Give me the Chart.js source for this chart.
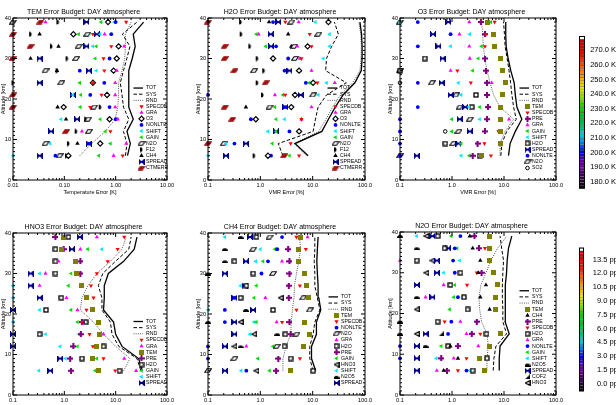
<!DOCTYPE html>
<html>
<head>
<meta charset="utf-8">
<script src="https://cdn.jsdelivr.net/npm/chart.js@4.4.1/dist/chart.umd.min.js"></script>
<style>
  body { margin: 0; background: #fff; }
  #fig { position: relative; width: 616px; height: 405px; overflow: hidden; background: #fff; }
  #fig canvas { position: absolute; }
</style>
</head>
<body>
<div id="fig"></div>
<script>
// altitude levels (km) shared by every panel
const altitudes = [6, 9, 12, 15, 18, 21, 24, 27, 30, 33, 36, 39];

// TEM panel (temperature error, K)
const temTOT    = [1.7, 1.93, 1.66, 2.2, 1.8, 1.8, 1.8, 1.8, 2.1, 2.4, 2.2, 3.5];
const temSYS    = [1.55, 1.66, 1.42, 1.8, 1.42, 1.33, 1.23, 1.42, 1.65, 1.9, 1.35, 2.6];
const temRND    = [0.2, 0.34, 0.63, 0.98, 1.1, 1.14, 1.14, 1.33, 1.5, 1.55, 1.55, 2.0];
const temSPECDB = [1.37, null, 0.79, null, 0.32, 0.53, 0.36, 0.6, 0.58, 0.82, 0.36, 1.6];
const temGRA    = [0.91, 1.6, 0.22, 1.1, 0.98, 0.98, 0.98, 1.05, null, 1.46, 0.61, 0.043];
const temO3     = [0.12, 0.5, null, 0.76, 0.097, 0.68, 0.36, 0.91, 1.05, 1.14, 0.15, 0.71];
const temNONLTE = [0.067, 0.3, null, 1.0, 0.76, 0.32, 0.6, 0.2, 0.76, null, 0.82, 1.0];
const temSHIFT  = [0.01, 0.053, null, 0.086, null, 0.147, null, 0.42, null, 0.36, 0.5, 0.94];
const temGAIN   = [0.47, 0.79, 0.63, 0.5, 0.205, 0.21, 0.2, null, 0.4, 0.42, 0.19, 0.52];
const temN2O    = [0.081, 0.043, 0.3, 0.29, 0.38, null, 0.087, 0.043, 0.17, 0.19, 0.28, 0.01];
const temF12    = [0.11, 0.12, 0.17, 0.26, 0.5, null, 0.01, 0.072, 0.113, 0.056, 0.022, 0.075];
const temCH4    = [null, 0.18, null, 0.108, 0.074, null, null, 0.072, 0.022, 0.077, 0.033, null];
const temSPREAD = [0.033, 0.3, 0.055, 0.177, null, 0.147, 0.033, 0.3, 0.033, 0.27, 0.43, 0.27];
const temCTMERR = [null, null, 0.108, null, 0.01, 0.01, null, null, 0.01, 0.022, 0.01, 0.034];

// H2O panel (VMR error, %)
const h2oTOT    = [8.2, 4.6, 15, 20, 27, 38, 64, 85, 88, 88, 86, 80];
const h2oSYS    = [2.7, 2.2, 10.2, 11.3, 12.7, 18.4, 44, 17.7, 18.4, 23, 31, 26];
const h2oRND    = [7.6, 4.4, 13, 18, 24, 34, 58, 80, 84, 85, 83, 76];
const h2oSPECDB = [5.5, 3.8, null, 6.1, null, 3.0, 12.3, null, 6.1, 9.5, 8.8, 3.0];
const h2oGRA    = [null, null, null, 6.1, 9.5, 1.9, 26.5, 9.5, 5.7, 5.1, 0.93, 5.4];
const h2oO3     = [1.4, null, 5.5, 0.82, 3.9, 4.6, 10.2, 5.5, 1.75, 8.0, null, 20];
const h2oNONLTE = [1.6, 0.32, 3.6, 0.66, 3.0, 0.1, 7.4, 2.9, 3.4, 2.0, null, 1.75];
const h2oSHIFT  = [0.1, 0.22, 1.4, 2.9, null, 12.8, 18.4, null, 16, 21, 21, 11.3];
const h2oGAIN   = [3.6, 1.7, 2.0, 2.0, 1.9, 2.7, 8.6, null, 1.75, 1.27, 0.84, null];
const h2oN2O    = [null, 0.2, null, null, 1.5, 10.2, null, 0.76, 4.6, 4.4, 12.8, 3.9];
const h2oF12    = [0.76, null, null, null, null, 1.1, 0.87, 1.16, 0.87, 0.63, 0.43, 0.42];
const h2oCH4    = [null, null, null, null, 0.53, null, null, null, null, 3.9, 3.4, 1.47];
const h2oSPREAD = [0.22, 0.53, 2.0, null, 3.0, 5.9, null, 3.6, null, 1.6, 1.58, 2.2];
const h2oCTMERR = [2.85, 0.1, null, 0.29, 0.21, null, 1.27, 0.32, 0.21, 0.21, null, 0.1];

// O3 panel
const o3TOT    = [12.2, 13.1, 16.5, 22, 17.7, 16.5, 15.7, 13.5, 12.0, 11, 10.8, 10.8];
const o3SYS    = [8.7, 9.1, 11.3, 17.2, 15.3, 14.2, 13.4, 12.5, 11.5, 10.5, 10.2, 9.8];
const o3RND    = [8.4, 8.4, 10.5, 15.3, 8.4, 6.3, 5.4, 4.7, 4.3, 4.0, 3.9, 3.7];
const o3TEM    = [3.7, 8.4, 8.4, 8.4, 8.4, 9.4, 10.6, 9.4, 8.4, 6.6, 6.3, 4.8];
const o3SPECDB = [5.6, 4.2, 7.8, null, null, null, 2.3, 1.27, null, 4.3, 4.5, 6.6];
const o3PRE    = [2.5, 3.1, 4.3, 4.7, 4.9, 4.7, 4.7, 4.5, 4.3, null, 4.3, 3.6];
const o3GRA    = [null, null, null, 12.5, null, null, 5.8, 0.94, 2.2, 2.15, 1.39, 2.15];
const o3GAIN   = [2.15, 1.5, 0.99, 0.99, 3.4, null, null, 2.5, 3.2, 3.7, null, 5.6];
const o3SHIFT  = [1.5, null, null, 3.4, 2.1, 1.5, 1.33, null, null, 0.94, 2.2, 0.1];
const o3H2O    = [3.4, 0.74, null, null, 2.4, 2.9, null, 0.1, 0.3, null, null, null];
const o3SPREAD = [0.21, 1.33, 2.2, 1.4, 1.8, 0.94, 0.63, null, 0.66, 0.55, 0.43, 0.85];
const o3NONLTE = [0.1, 0.1, 0.1, 0.1, 0.22, null, 0.22, null, null, 0.22, 0.94, 0.22];
const o3N2O    = [0.1, 1.06, 1.33, 2.2, 1.4, 1.2, 0.41, 0.1, null, null, null, 0.1];
const o3SO2    = [null, null, 0.74, null, null, null, 0.1, null, null, null, null, null];

// HNO3 panel
const hno3TOT    = [33, 28, 13.3, 10, 9.1, 5.8, 6.0, 6.0, 7.2, 14.3, 23, 26];
const hno3SYS    = [31, 26, 11.5, 8.5, 7.9, 5.4, 5.4, 4.6, 5.6, 9.9, 18, 20];
const hno3RND    = [14.3, 19, 10, 5.8, 3.7, 2.05, 2.2, 2.9, 4.3, 7.9, 13.3, 16];
const hno3SPECDB = [9.8, 5.8, 3.6, 3.1, 2.2, 2.7, 3.7, 3.3, 4.3, 7.0, 10.9, 14.7];
const hno3GRA    = [25, 14.7, null, 5.8, null, 1.8, 1.1, 0.33, 0.43, 0.77, 2.05, 4.3];
const hno3TEM    = [4.65, 3.6, 4.3, 4.9, 4.65, 3.5, 2.7, 2.2, 1.76, 1.64, 0.9, 0.97];
const hno3PRE    = [1.35, 1.3, 1.5, 2.1, 2.2, null, null, null, 2.05, 2.05, 0.97, 0.67];
const hno3H2O    = [11.9, 2.2, 5.8, 0.33, 2.6, 0.44, 0.87, null, 0.67, 0.67, 0.67, 1.2];
const hno3GAIN   = [4.0, 4.3, 1.8, 1.95, 1.8, 1.35, null, 1.2, 1.35, null, 2.85, null];
const hno3SHIFT  = [0.32, 1.05, 0.83, 0.43, 0.1, 0.33, 0.1, 0.1, 0.33, null, 5.4, null];
const hno3SPREAD = [0.53, 0.83, 0.1, 0.1, null, 0.1, 0.33, 0.22, 0.22, null, 1.4, 2.0];

// CH4 panel
const ch4TOT    = [11.4, 9.5, 9.5, 11.8, 11.8, 14.3, 13.1, 12.7, 12.3, 12.0, 12.3, 12.7];
const ch4SYS    = [10.2, 8.8, 8.8, 10.2, 11.0, 13.7, 12.3, 11.0, 11.0, 10.7, 11.0, 11.0];
const ch4RND    = [2.7, 2.7, 3.1, 3.8, 3.9, 4.1, 4.4, 4.5, 4.9, 5.4, 5.9, 5.6];
const ch4TEM    = [3.7, null, 6.6, 8.8, 7.0, null, 8.2, 7.7, 6.9, 5.4, 5.4, 5.9];
const ch4SPECDB = [null, 5.7, null, null, 2.6, 4.9, null, 5.7, null, null, 7.4, 4.9];
const ch4NONLTE = [0.54, 0.1, 0.1, null, 0.21, 0.21, 0.32, null, 1.05, 1.4, 2.1, 2.6];
const ch4N2O    = [0.1, 0.32, 2.05, 4.9, null, 8.8, 6.6, null, 1.75, null, 0.73, 1.5];
const ch4GRA    = [null, null, 0.54, null, 2.05, null, 1.25, null, null, 2.6, null, 8.0];
const ch4H2O    = [10.2, 3.8, 2.9, 3.0, null, 1.75, 0.42, 0.54, 0.73, 0.32, null, 0.84];
const ch4PRE    = [2.0, 2.2, null, 3.8, 3.6, null, 3.5, 3.5, 3.6, 3.6, 3.4, null];
const ch4GAIN   = [1.5, 0.9, 1.75, null, 0.84, null, 0.76, 0.84, null, 1.13, 1.9, null];
const ch4HNO3   = [0.84, null, 0.32, 0.76, 0.42, null, 2.45, null, null, null, null, null];
const ch4SHIFT  = [0.43, null, null, 0.63, 0.76, 0.1, null, 0.42, null, 0.82, 1.0, 0.21];
const ch4N2O5   = [null, null, 0.42, 2.1, 0.1, 0.53, null, null, 0.1, 0.21, 0.21, 0.42];
const ch4SPREAD = [0.21, null, 0.21, 0.32, 0.32, 0.73, 0.32, 0.5, 0.21, 0.53, null, 0.63];

// N2O panel
const n2oTOT    = [8.1, 8.1, 8.4, 12.6, 10.5, 10.5, 10.5, 10.8, 11.2, 11.5, 12.2, 14.1];
const n2oSYS    = [6.2, 6.4, 7.0, 11.2, 9.5, 9.5, 9.3, 9.3, 9.5, 9.8, 9.0, 8.4];
const n2oRND    = [4.7, 4.7, 5.0, 4.7, 3.7, 3.4, 3.3, 3.6, 4.5, 5.6, 7.5, 11.3];
const n2oTEM    = [4.15, 3.4, 5.2, 8.7, null, 7.0, 7.0, 7.4, 6.2, 5.2, 5.2, 5.2];
const n2oCH4    = [0.69, 1.3, 0.93, null, null, 5.3, 3.5, 4.5, 3.2, 3.5, 2.5, 2.2];
const n2oPRE    = [0.8, 0.62, 1.3, 2.4, 3.0, null, null, null, 3.7, null, 3.3, 2.7];
const n2oSPECDB = [1.3, 1.9, null, 3.5, 0.72, null, null, 1.95, 3.0, null, 4.3, null];
const n2oH2O    = [2.5, 4.7, 0.84, 4.6, 0.53, 2.0, 1.7, 0.93, 1.45, 0.21, 0.72, 0.53];
const n2oGRA    = [0.51, 1.08, 3.2, 1.9, 1.45, null, 0.31, 0.69, null, 0.1, null, null];
const n2oNONLTE = [1.9, 0.1, 0.1, 0.84, 0.97, null, 1.3, null, 1.13, 1.05, 1.13, 1.45];
const n2oGAIN   = [null, null, 0.62, null, null, 0.9, 1.08, 1.13, null, null, 1.25, 0.97];
const n2oSHIFT  = [2.2, 0.5, null, null, null, null, null, null, 0.69, 1.4, null, 0.21];
const n2oN2O5   = [null, null, 0.31, 0.1, 0.1, null, 0.21, null, null, null, 0.21, 0.1];
const n2oSPREAD = [0.21, 0.21, 0.21, 0.31, null, null, 0.42, 0.21, 0.51, 0.51, 0.84, 0.42];
const n2oCOF2   = [null, null, null, 0.62, null, null, null, null, null, null, null, null];
const n2oHNO3   = [null, null, null, 0.21, null, 0.21, null, null, 0.32, 0.42, null, 0.32];

// axis ticks and labels
const yTicks = [0, 10, 20, 30, 40];
const yTickLabels = ['0', '10', '20', '30', '40'];
const temXTicks = [0.01, 0.1, 1, 10];
const temXLabels = ['0.01', '0.10', '1.00', '10.00'];
const vmrXTicks = [0.1, 1, 10, 100];
const vmrXLabels = ['0.1', '1.0', '10.0', '100.0'];

// colour bars
const cb1Range = [175.5, 279.5];
const cb1Ticks = [180, 190, 200, 210, 220, 230, 240, 250, 260, 270];
const cb1Labels = ['180.0 K', '190.0 K', '200.0 K', '210.0 K', '220.0 K', '230.0 K', '240.0 K', '250.0 K', '260.0 K', '270.0 K'];
const cb2Range = [-0.8, 14.75];
const cb2Ticks = [0, 1.5, 3, 4.5, 6, 7.5, 9, 10.5, 12, 13.5];
const cb2Labels = ['0.0 ppm', '1.5 ppm', '3.0 ppm', '4.5 ppm', '6.0 ppm', '7.5 ppm', '9.0 ppm', '10.5 ppm', '12.0 ppm', '13.5 ppm'];

const FONT = "'Liberation Sans', Arial, Helvetica, sans-serif";
Chart.defaults.font.family = FONT;
Chart.defaults.color = '#000';

// small custom marker glyphs
function glyph(w, h, draw) {
  const c = document.createElement('canvas');
  c.width = w; c.height = h;
  draw(c.getContext('2d'));
  return c;
}
function para(fill, stroke) {
  return glyph(8, 5, g => {
    g.beginPath();
    g.moveTo(3, 0.7); g.lineTo(7.4, 0.7); g.lineTo(5, 4.3); g.lineTo(0.6, 4.3);
    g.closePath();
    g.fillStyle = fill; g.fill();
    g.lineWidth = 1.1; g.strokeStyle = stroke; g.stroke();
  });
}
const gN2O = para('#fff', '#000');
const gCTMERR = para('#a01010', '#a01010');
const gF12 = glyph(5, 6, g => {
  g.beginPath(); g.moveTo(1, 0.5); g.arc(1, 3, 2.5, -Math.PI / 2, Math.PI / 2); g.closePath();
  g.fillStyle = '#000'; g.fill();
});
const gSPREAD = glyph(6, 6, g => {
  g.fillStyle = '#00008c'; g.strokeStyle = '#00008c'; g.lineWidth = 1;
  g.beginPath(); g.moveTo(0, 0); g.lineTo(3, 3); g.lineTo(0, 6); g.fill();
  g.beginPath(); g.moveTo(6, 0); g.lineTo(3, 3); g.lineTo(6, 6); g.fill();
  g.beginPath(); g.moveTo(0, 0); g.lineTo(6, 6); g.moveTo(6, 0); g.lineTo(0, 6); g.stroke();
});
const gH2O = glyph(6, 6, g => {
  g.fillStyle = '#fff'; g.fillRect(1, 1, 4, 4);
  g.strokeStyle = '#000'; g.lineWidth = 1.3; g.strokeRect(1, 1, 4, 4);
});
const gTEM = glyph(5, 5, g => { g.fillStyle = '#808000'; g.fillRect(0, 0, 5, 5); });
const gPRE = glyph(6, 6, g => {
  g.fillStyle = '#800080'; g.fillRect(2, 0, 2, 6); g.fillRect(0, 2, 6, 2);
  g.beginPath(); g.moveTo(3, 0.5); g.lineTo(5.5, 3); g.lineTo(3, 5.5); g.lineTo(0.5, 3); g.fill();
});
const gN2O5 = glyph(6, 4, g => {
  g.beginPath(); g.arc(3, 4, 3, Math.PI, 0); g.closePath(); g.fillStyle = '#000'; g.fill();
});
const gCOF2 = glyph(5, 5, g => {
  g.beginPath(); g.moveTo(5, 0); g.lineTo(5, 5); g.lineTo(0, 5); g.closePath(); g.fillStyle = '#000'; g.fill();
});
const gHNO3 = glyph(6, 6, g => {
  g.beginPath(); g.moveTo(0.7, 3); g.lineTo(5.3, 0.7); g.lineTo(5.3, 5.3); g.closePath();
  g.fillStyle = '#fff'; g.fill(); g.lineWidth = 1.2; g.strokeStyle = '#000'; g.stroke();
});

const markerStyle = {
  SPECDB: { style: 'triangle', rot: 180, fill: '#ff0000', r: 2.4 },
  GRA:    { style: 'triangle', fill: '#ff00ff', r: 2.4 },
  O3:     { style: 'rectRot', fill: '#fff', stroke: '#000', bw: 1.2, r: 2.6 },
  NONLTE: { style: 'circle', fill: '#0000ff', r: 1.9 },
  SHIFT:  { style: 'triangle', rot: 270, fill: '#00e8ff', r: 2.4 },
  GAIN:   { style: 'triangle', rot: 270, fill: '#00dd00', r: 2.4 },
  N2O:    { style: gN2O },
  F12:    { style: gF12 },
  CH4:    { style: 'triangle', fill: '#000', r: 2.6 },
  SPREAD: { style: gSPREAD },
  CTMERR: { style: gCTMERR },
  TEM:    { style: gTEM },
  PRE:    { style: gPRE },
  H2O:    { style: gH2O },
  SO2:    { style: 'circle', fill: '#fff', stroke: '#000', bw: 1, r: 1.8 },
  N2O5:   { style: gN2O5 },
  COF2:   { style: gCOF2 },
  HNO3:   { style: gHNO3 }
};
const lineStyle = {
  TOT: { color: '#000', width: 1.3, dash: [] },
  SYS: { color: '#000', width: 1, dash: [3.5, 2] },
  RND: { color: '#555', width: 1, dash: [1, 1.2] }
};

const points = vals => altitudes.map((a, i) => ({ x: vals[i], y: a })).filter(p => p.x != null);

// box frame with inward ticks, like the original plots
function framePlugin(xTicks) {
  return {
    id: 'frame',
    afterDatasetsDraw(chart) {
      const { ctx, chartArea: a, scales: { x, y } } = chart;
      ctx.save();
      ctx.strokeStyle = '#000';
      ctx.lineWidth = 1;
      ctx.strokeRect(a.left, a.top, a.right - a.left, a.bottom - a.top);
      ctx.beginPath();
      for (let v = 0; v <= 40; v++) {
        const py = y.getPixelForValue(v);
        const len = v % 10 === 0 ? 4 : 2;
        ctx.moveTo(a.left, py); ctx.lineTo(a.left + len, py);
        ctx.moveTo(a.right, py); ctx.lineTo(a.right - len, py);
      }
      const lo = xTicks[0], hi = xTicks[xTicks.length - 1];
      for (let d = lo; d < hi * 1.0001; d *= 10) {
        for (let k = 1; k <= 9; k++) {
          const v = d * k;
          if (v > hi * 1.0001) break;
          const px = x.getPixelForValue(v);
          const len = k === 1 ? 4 : 2;
          ctx.moveTo(px, a.bottom); ctx.lineTo(px, a.bottom - len);
          ctx.moveTo(px, a.top); ctx.lineTo(px, a.top + len);
        }
      }
      ctx.stroke();
      ctx.restore();
    }
  };
}

// in-plot legend, anchored to the lower right of the plot box
function legendPlugin(names, seriesNames, dx) {
  return {
    id: 'errLegend',
    afterDraw(chart) {
      const { ctx, chartArea: a } = chart;
      const entries = names.concat(seriesNames);
      const tx = a.right + dx;
      ctx.save();
      ctx.font = '5.2px ' + FONT;
      ctx.textBaseline = 'middle';
      entries.forEach((name, i) => {
        const y = a.bottom - 12 - (entries.length - 1 - i) * 6.15;
        if (lineStyle[name]) {
          const s = lineStyle[name];
          ctx.strokeStyle = s.color; ctx.lineWidth = s.width; ctx.setLineDash(s.dash);
          ctx.beginPath(); ctx.moveTo(tx - 12.5, y); ctx.lineTo(tx - 3, y); ctx.stroke();
          ctx.setLineDash([]);
        } else {
          const s = markerStyle[name];
          ctx.fillStyle = s.fill || '#000';
          ctx.strokeStyle = s.stroke || s.fill || '#000';
          ctx.lineWidth = s.bw || 0;
          Chart.helpers.drawPoint(ctx, { pointStyle: s.style, rotation: s.rot || 0, radius: s.r || 2.5, borderWidth: s.bw || 0 }, tx - 4.5, y);
        }
        ctx.fillStyle = '#000';
        ctx.fillText(name, tx, y);
      });
      ctx.restore();
    }
  };
}

function makePanel(p) {
  const [L, T, R, B] = p.area;
  const canvas = document.createElement('canvas');
  canvas.width = R - L + 26;
  canvas.height = B - T + 34;
  canvas.style.left = (L - 13) + 'px';
  canvas.style.top = (T - 18) + 'px';
  document.getElementById('fig').appendChild(canvas);

  const datasets = [];
  p.series.forEach(([name, vals]) => {
    const s = markerStyle[name];
    datasets.push({
      label: name,
      data: points(vals),
      showLine: false,
      clip: false,
      pointStyle: s.style,
      pointRotation: s.rot || 0,
      pointRadius: s.r || 2.5,
      pointBackgroundColor: s.fill || '#000',
      pointBorderColor: s.stroke || s.fill || '#000',
      pointBorderWidth: s.bw || 0
    });
  });
  p.lines.forEach(([name, vals]) => {
    const s = lineStyle[name];
    datasets.push({
      label: name,
      data: points(vals),
      showLine: true,
      clip: false,
      borderColor: s.color,
      borderWidth: s.width,
      borderDash: s.dash,
      pointRadius: 0,
      tension: 0
    });
  });

  new Chart(canvas, {
    type: 'scatter',
    data: { datasets },
    options: {
      responsive: false,
      animation: false,
      events: [],
      layout: { padding: { left: 0, right: 13, top: 0, bottom: 0 } },
      plugins: {
        legend: { display: false },
        tooltip: { enabled: false },
        title: { display: true, text: p.title, color: '#000', font: { size: 7, weight: 'normal' }, padding: { top: 7.8, bottom: 1.8 } }
      },
      scales: {
        x: {
          type: 'logarithmic',
          min: p.xTicks[0],
          max: p.xTicks[p.xTicks.length - 1],
          grid: { display: false, drawTicks: false },
          border: { display: false },
          afterBuildTicks: s => { s.ticks = p.xTicks.map(v => ({ value: v })); },
          ticks: { font: { size: 5.6 }, padding: 2, autoSkip: false, maxRotation: 0, callback: (v, i) => p.xLabels[i] },
          title: { display: true, text: p.xTitle, font: { size: 5.5 }, padding: 0 },
          afterFit: s => { s.height = 16; }
        },
        y: {
          min: 0,
          max: 40,
          grid: { display: false, drawTicks: false },
          border: { display: false },
          afterBuildTicks: s => { s.ticks = yTicks.map(v => ({ value: v })); },
          ticks: { font: { size: 5.6 }, padding: 2, callback: (v, i) => yTickLabels[i] },
          title: { display: true, text: 'Altitude [km]', font: { size: 5.5 }, padding: 0 },
          afterFit: s => { s.width = 13; }
        }
      }
    },
    plugins: [framePlugin(p.xTicks), legendPlugin(['TOT', 'SYS', 'RND'], p.series.map(s => s[0]), p.legendDx)]
  });
}

// rainbow + white colour table
const cbStops = [
  [0.00, [10, 10, 10]], [0.09, [70, 0, 90]], [0.14, [110, 0, 140]], [0.19, [90, 0, 190]],
  [0.236, [0, 0, 240]], [0.284, [0, 90, 235]], [0.332, [0, 190, 220]], [0.38, [0, 200, 170]],
  [0.43, [0, 190, 80]], [0.524, [0, 205, 0]], [0.572, [90, 215, 0]], [0.62, [180, 225, 0]],
  [0.668, [240, 225, 0]], [0.716, [250, 180, 0]], [0.764, [250, 130, 0]], [0.812, [245, 80, 0]],
  [0.86, [240, 20, 0]], [0.91, [225, 0, 0]], [1.0, [200, 0, 0]]
];
function cbColor(f) {
  for (let i = 1; i < cbStops.length; i++) {
    if (f <= cbStops[i][0]) {
      const [f0, c0] = cbStops[i - 1], [f1, c1] = cbStops[i];
      const t = (f - f0) / (f1 - f0);
      return 'rgb(' + c0.map((c, k) => Math.round(c + (c1[k] - c) * t)).join(',') + ')';
    }
  }
  return 'rgb(200,0,0)';
}

function makeColorbar(c) {
  const canvas = document.createElement('canvas');
  canvas.width = c.box[2]; canvas.height = c.box[3];
  canvas.style.left = c.box[0] + 'px';
  canvas.style.top = c.box[1] + 'px';
  document.getElementById('fig').appendChild(canvas);
  const n = 52;
  const [lo, hi] = c.range;
  const step = (hi - lo) / n;
  const datasets = [];
  for (let i = 0; i < n; i++) {
    datasets.push({
      data: [[lo + i * step, lo + (i + 1) * step]],
      backgroundColor: i === n - 1 ? '#fff' : cbColor((i + 0.5) / n),
      borderColor: 'rgba(0,0,0,0.55)',
      borderWidth: { top: 0.6, bottom: 0, left: 0, right: 0 },
      borderSkipped: false,
      grouped: false,
      barPercentage: 1,
      categoryPercentage: 1
    });
  }
  new Chart(canvas, {
    type: 'bar',
    data: { labels: [''], datasets },
    options: {
      responsive: false,
      animation: false,
      events: [],
      layout: { padding: { top: c.padTop, bottom: c.padBottom, left: 0, right: 0 } },
      plugins: { legend: { display: false }, tooltip: { enabled: false } },
      scales: {
        x: { display: false },
        y: {
          position: 'right',
          min: lo,
          max: hi,
          grid: { display: false, drawTicks: false },
          border: { display: false },
          afterBuildTicks: s => { s.ticks = c.ticks.map(v => ({ value: v })); },
          ticks: { font: { size: 7.5 }, padding: c.labelPad, crossAlign: 'far', callback: (v, i) => c.labels[i] },
          afterFit: s => { s.width = c.axisWidth; }
        }
      }
    },
    plugins: [{
      id: 'cbFrame',
      afterDraw(chart) {
        const { ctx, chartArea: a } = chart;
        ctx.save();
        ctx.strokeStyle = '#000'; ctx.lineWidth = 1;
        ctx.strokeRect(a.left + 0.5, a.top, a.right - a.left - 1, a.bottom - a.top);
        ctx.restore();
      }
    }]
  });
}

makePanel({
  area: [13, 18, 167, 180], title: 'TEM Error Budget: DAY atmosphere',
  xTicks: temXTicks, xLabels: temXLabels, xTitle: 'Temperature Error [K]', legendDx: -21,
  lines: [['TOT', temTOT], ['SYS', temSYS], ['RND', temRND]],
  series: [['SPECDB', temSPECDB], ['GRA', temGRA], ['O3', temO3], ['NONLTE', temNONLTE], ['SHIFT', temSHIFT],
           ['GAIN', temGAIN], ['N2O', temN2O], ['F12', temF12], ['CH4', temCH4], ['SPREAD', temSPREAD], ['CTMERR', temCTMERR]]
});
makePanel({
  area: [208, 18, 365, 180], title: 'H2O Error Budget: DAY atmosphere',
  xTicks: vmrXTicks, xLabels: vmrXLabels, xTitle: 'VMR Error [%]', legendDx: -25,
  lines: [['TOT', h2oTOT], ['SYS', h2oSYS], ['RND', h2oRND]],
  series: [['SPECDB', h2oSPECDB], ['GRA', h2oGRA], ['O3', h2oO3], ['NONLTE', h2oNONLTE], ['SHIFT', h2oSHIFT],
           ['GAIN', h2oGAIN], ['N2O', h2oN2O], ['F12', h2oF12], ['CH4', h2oCH4], ['SPREAD', h2oSPREAD], ['CTMERR', h2oCTMERR]]
});
makePanel({
  area: [400, 18, 556, 180], title: 'O3 Error Budget: DAY atmosphere',
  xTicks: vmrXTicks, xLabels: vmrXLabels, xTitle: 'VMR Error [%]', legendDx: -24,
  lines: [['TOT', o3TOT], ['SYS', o3SYS], ['RND', o3RND]],
  series: [['TEM', o3TEM], ['SPECDB', o3SPECDB], ['PRE', o3PRE], ['GRA', o3GRA], ['GAIN', o3GAIN], ['SHIFT', o3SHIFT],
           ['H2O', o3H2O], ['SPREAD', o3SPREAD], ['NONLTE', o3NONLTE], ['N2O', o3N2O], ['SO2', o3SO2]]
});
makePanel({
  area: [13, 233, 167, 395], title: 'HNO3 Error Budget: DAY atmosphere',
  xTicks: vmrXTicks, xLabels: vmrXLabels, xTitle: 'VMR Error [%]', legendDx: -21,
  lines: [['TOT', hno3TOT], ['SYS', hno3SYS], ['RND', hno3RND]],
  series: [['SPECDB', hno3SPECDB], ['GRA', hno3GRA], ['TEM', hno3TEM], ['PRE', hno3PRE], ['H2O', hno3H2O],
           ['GAIN', hno3GAIN], ['SHIFT', hno3SHIFT], ['SPREAD', hno3SPREAD]]
});
makePanel({
  area: [208, 233, 365, 395], title: 'CH4 Error Budget: DAY atmosphere',
  xTicks: vmrXTicks, xLabels: vmrXLabels, xTitle: 'VMR Error [%]', legendDx: -24,
  lines: [['TOT', ch4TOT], ['SYS', ch4SYS], ['RND', ch4RND]],
  series: [['TEM', ch4TEM], ['SPECDB', ch4SPECDB], ['NONLTE', ch4NONLTE], ['N2O', ch4N2O], ['GRA', ch4GRA], ['H2O', ch4H2O],
           ['PRE', ch4PRE], ['GAIN', ch4GAIN], ['HNO3', ch4HNO3], ['SHIFT', ch4SHIFT], ['N2O5', ch4N2O5], ['SPREAD', ch4SPREAD]]
});
makePanel({
  area: [400, 232, 556, 395], title: 'N2O Error Budget: DAY atmosphere',
  xTicks: vmrXTicks, xLabels: vmrXLabels, xTitle: 'VMR Error [%]', legendDx: -24,
  lines: [['TOT', n2oTOT], ['SYS', n2oSYS], ['RND', n2oRND]],
  series: [['TEM', n2oTEM], ['CH4', n2oCH4], ['PRE', n2oPRE], ['SPECDB', n2oSPECDB], ['H2O', n2oH2O], ['GRA', n2oGRA],
           ['NONLTE', n2oNONLTE], ['GAIN', n2oGAIN], ['SHIFT', n2oSHIFT], ['N2O5', n2oN2O5], ['SPREAD', n2oSPREAD],
           ['COF2', n2oCOF2], ['HNO3', n2oHNO3]]
});

makeColorbar({ box: [579, 30, 37, 165], range: cb1Range, ticks: cb1Ticks, labels: cb1Labels,
               padTop: 4.3, padBottom: 6.7, axisWidth: 31, labelPad: 2 });
makeColorbar({ box: [579, 237, 45, 165], range: cb2Range, ticks: cb2Ticks, labels: cb2Labels,
               padTop: 4.7, padBottom: 4, axisWidth: 40, labelPad: 6.5 });
</script>
</body>
</html>
